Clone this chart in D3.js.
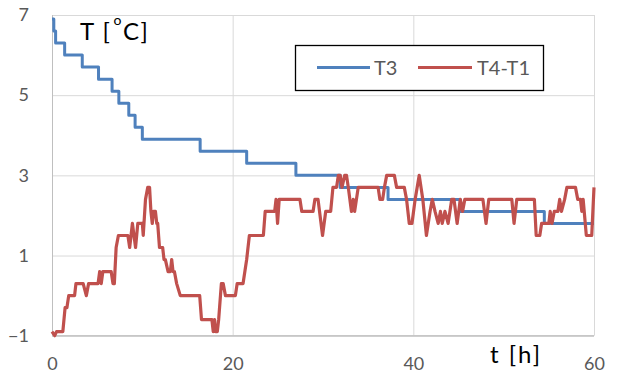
<!DOCTYPE html>
<html>
<head>
<meta charset="utf-8">
<script src="https://cdn.jsdelivr.net/npm/d3@7"></script>
<style>
  html, body { margin: 0; padding: 0; background: #fff; }
  svg { display: block; }
  text { font-family: Lato, "Open Sans", sans-serif; }
</style>
</head>
<body>
<svg id="chart" width="622" height="380"></svg>
<script>
// Time axis ticks (hours) and temperature ticks (°C)
const xTicks = [0, 20, 40, 60];
const yTicks = [-1, 1, 3, 5, 7];

// T3: stepwise sensor reading (time of each change, new value)
const t3Time = [0, 0.2, 0.4, 1.4, 3.35, 5.15, 6.65, 7.4, 8.5, 9.2, 10.0, 16.4, 21.55, 27.0, 31.9, 37.2, 45.2, 54.5, 60];
const t3Temp = [6.9, 6.6, 6.3, 6.0, 5.7, 5.4, 5.1, 4.8, 4.5, 4.2, 3.9, 3.6, 3.3, 3.0, 2.7, 2.4, 2.1, 1.8, 1.8];

// T4-T1: temperature difference samples
const dTime = [
  0.0, 0.3, 0.5, 1.2, 1.45, 1.65, 1.85, 2.5, 2.65, 3.45, 3.8, 4.05, 5.1, 5.28, 5.45, 5.63, 6.55, 6.75, 6.9, 7.1, 7.35,
  8.4, 8.6, 8.9, 9.25, 9.5, 10.0, 10.1, 10.35, 10.6, 10.8, 10.95, 11.1, 11.25, 11.45, 11.6, 11.7,
  11.9, 12.25, 12.4, 12.55, 12.85, 13.1, 13.25, 13.4, 13.55, 13.8, 14.2,
  16.35, 16.55, 17.7, 17.85, 18.0, 18.1, 18.3, 18.45, 18.75, 18.95, 19.2,
  20.3, 20.5, 21.15, 21.35, 21.55, 21.85, 23.4, 23.6, 24.65, 24.8, 24.97, 25.15,
  27.45, 27.65, 28.9, 29.1, 29.45, 29.95, 30.3, 30.85, 31.1, 31.5, 31.7, 31.9, 32.1, 32.4, 32.6, 32.8,
  33.15, 33.35, 33.5, 33.9, 36.1, 36.3, 36.6, 36.8, 37.05, 37.9, 38.15, 39.0, 39.25, 39.55, 39.85,
  40.2, 40.65, 41.05, 41.45, 41.85, 42.1, 42.4, 42.75, 43.0, 43.2, 43.5, 43.85, 44.25, 44.5, 44.85,
  45.2, 45.45, 45.7, 47.7, 48.05, 48.35, 50.9, 51.15, 51.45, 53.4, 53.6, 54.0, 54.2, 55.0, 55.15,
  55.35, 55.6, 56.0, 56.2, 56.4, 56.75, 57.0, 57.95, 58.2, 58.5, 58.65, 58.8, 59.15, 59.75, 60.0
];
const dTemp = [
  -0.9, -1.0, -0.9, -0.9, -0.3, -0.3, 0, 0, 0.3, 0.3, 0, 0.3, 0.3, 0.6, 0.3, 0.6, 0.6, 0.3, 0.3, 1.2, 1.5,
  1.5, 1.2, 1.8, 1.2, 1.8, 1.8, 1.5, 2.4, 2.7, 2.7, 2.1, 1.8, 2.1, 2.1, 1.8, 1.8,
  1.2, 1.2, 0.9, 0.9, 0.6, 0.6, 0.9, 0.6, 0.6, 0.3, 0,
  0, -0.6, -0.6, -0.9, -0.6, -0.9, -0.9, -0.6, 0.3, 0.3, 0,
  0, 0.3, 0.3, 0.6, 0.9, 1.5, 1.5, 2.1, 2.1, 2.4, 1.8, 2.4,
  2.4, 2.1, 2.1, 2.4, 2.4, 1.5, 2.1, 2.1, 2.7, 2.7, 3.0, 3.0, 2.7, 3.0, 3.0, 2.7,
  2.1, 2.4, 2.1, 2.7, 2.7, 2.4, 2.4, 2.7, 3.0, 3.0, 2.7, 2.7, 2.4, 1.8, 1.8,
  2.4, 3.0, 2.4, 1.5, 2.1, 2.4, 2.1, 1.8, 2.1, 1.8, 2.1, 1.8, 2.4, 2.4, 1.8,
  2.4, 2.1, 2.4, 2.4, 1.8, 2.4, 2.4, 1.8, 2.4, 2.4, 1.5, 1.5, 1.8, 1.8, 2.1,
  1.8, 2.1, 2.1, 2.4, 2.1, 2.4, 2.7, 2.7, 2.4, 2.4, 2.1, 2.4, 1.5, 1.5, 2.7
];

const seriesNames = ["T3", "T4-T1"];
const seriesColors = ["#4f81bd", "#c0504d"];

const svg = d3.select("#chart");
const plot = { left: 52, right: 594, top: 15, bottom: 335.7 };

const x = d3.scaleLinear().domain([0, 60]).range([plot.left, plot.right]);
const y = d3.scaleLinear().domain([-1, 7]).range([plot.bottom, plot.top]);

// Horizontal gridlines + y tick labels
const yAxis = svg.append("g")
  .attr("transform", `translate(${plot.left},0)`)
  .call(d3.axisLeft(y).tickValues(yTicks).tickSize(-(plot.right - plot.left)).tickPadding(23).tickFormat(d3.format("d")));
yAxis.select(".domain").remove();
yAxis.selectAll(".tick line").attr("stroke", d => d === -1 ? "#bfbfbf" : "#d9d9d9").attr("stroke-width", 1);
yAxis.selectAll(".tick text").attr("fill", "#595959").style("font-size", "18px").style("font-family", "Lato, sans-serif");

// Vertical gridlines + x tick labels
const xAxis = svg.append("g")
  .attr("transform", `translate(0,${plot.bottom})`)
  .call(d3.axisBottom(x).tickValues(xTicks).tickSize(-(plot.bottom - plot.top)).tickPadding(22).tickFormat(d3.format("d")));
xAxis.select(".domain").remove();
xAxis.selectAll(".tick line").attr("stroke", d => d === 0 ? "#bfbfbf" : "#d9d9d9").attr("stroke-width", 1);
xAxis.selectAll(".tick text").attr("fill", "#595959").style("font-size", "18px").style("font-family", "Lato, sans-serif");

// Bottom axis line drawn over the vertical gridlines
svg.append("line")
  .attr("x1", x(0)).attr("x2", x(60))
  .attr("y1", y(-1)).attr("y2", y(-1))
  .attr("stroke", "#bfbfbf").attr("stroke-width", 1);

// Series lines
const t3Data = t3Time.map((t, i) => [t, t3Temp[i]]);
const dData = dTime.map((t, i) => [t, dTemp[i]]);

const stepLine = d3.line().x(d => x(d[0])).y(d => y(d[1])).curve(d3.curveStepAfter);
const plainLine = d3.line().x(d => x(d[0])).y(d => y(d[1]));

svg.append("path")
  .attr("d", stepLine(t3Data))
  .attr("fill", "none")
  .attr("stroke", seriesColors[0])
  .attr("stroke-width", 3)
  .attr("stroke-linejoin", "round");

svg.append("path")
  .attr("d", plainLine(dData))
  .attr("fill", "none")
  .attr("stroke", seriesColors[1])
  .attr("stroke-width", 3.2)
  .attr("stroke-linejoin", "round");

// Axis titles
const yTitle = svg.append("text")
  .attr("x", 80).attr("y", 40)
  .attr("fill", "#000")
  .style("font-size", "24px")
  .style("letter-spacing", "1.5px");
yTitle.append("tspan").text("T [");
yTitle.append("tspan").attr("dx", 2).attr("dy", -15).style("font-size", "14px").text("o");
yTitle.append("tspan").attr("dy", 15).text("C]");

svg.append("text")
  .attr("x", 490).attr("y", 363)
  .attr("fill", "#000")
  .style("font-size", "24px")
  .style("letter-spacing", "2px")
  .text("t [h]");

// Legend
const legend = svg.append("g");
legend.append("rect")
  .attr("x", 295.5).attr("y", 45.5).attr("width", 248).attr("height", 45)
  .attr("fill", "#fff").attr("stroke", "#000").attr("stroke-width", 1.3);

const legendItems = [
  { x1: 317, x2: 370, tx: 374 },
  { x1: 418, x2: 472, tx: 477 }
];
legendItems.forEach((it, i) => {
  legend.append("line")
    .attr("x1", it.x1).attr("x2", it.x2)
    .attr("y1", 67.5).attr("y2", 67.5)
    .attr("stroke", seriesColors[i]).attr("stroke-width", 3);
  legend.append("text")
    .attr("x", it.tx).attr("y", 74.5)
    .attr("fill", "#595959")
    .style("font-size", "20px")
    .text(seriesNames[i]);
});
</script>
</body>
</html>
